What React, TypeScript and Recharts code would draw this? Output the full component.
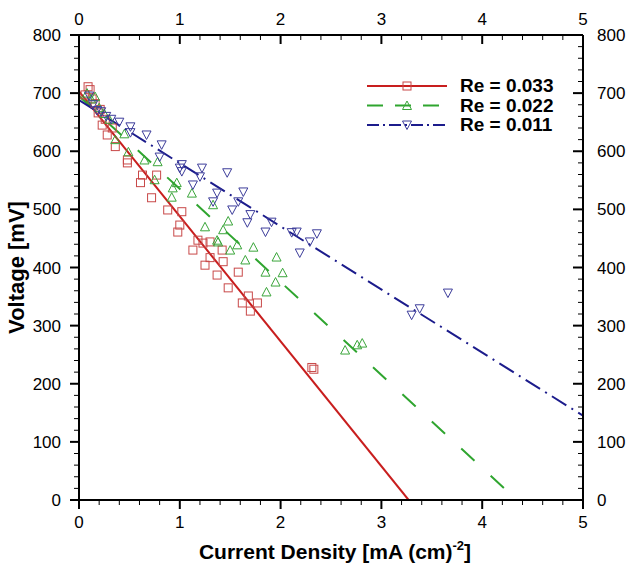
import React from "react";
import {
  ComposedChart,
  Line,
  Scatter,
  XAxis,
  YAxis,
  Label,
} from "recharts";

// axis ticks
const X_STEP = 0.2;
const Y_STEP = 20;

const buildTicks = (max: number, step: number) =>
  Array.from({ length: Math.round(max / step) + 1 }, (_, k) => +(k * step).toFixed(3));
const X_TICKS = buildTicks(5, X_STEP);
const Y_TICKS = buildTicks(800, Y_STEP);

// Re = 0.033 measurements
const re033Current = [0.06, 0.09, 0.11, 0.13, 0.16, 0.19, 0.21, 0.23, 0.26, 0.28, 0.33, 0.36, 0.48, 0.48, 0.61, 0.63, 0.72, 0.77, 0.88, 0.98, 1.0, 1.02, 1.13, 1.18, 1.23, 1.25, 1.3, 1.3, 1.37, 1.42, 1.43, 1.48, 1.58, 1.62, 1.68, 1.7, 1.77, 2.31, 2.33];
const re033Voltage = [697, 711, 706, 690, 682, 666, 672, 645, 655, 628, 640, 608, 585, 580, 546, 559, 520, 559, 499, 461, 473, 496, 430, 447, 442, 404, 444, 417, 387, 430, 410, 365, 392, 339, 351, 325, 339, 228, 225];

// Re = 0.022 measurements
const re022Current = [0.08, 0.12, 0.16, 0.2, 0.25, 0.3, 0.36, 0.45, 0.49, 0.65, 0.75, 0.78, 0.93, 0.97, 0.92, 1.12, 1.25, 1.33, 1.37, 1.38, 1.43, 1.48, 1.5, 1.57, 1.65, 1.73, 1.85, 1.86, 1.95, 1.96, 2.02, 2.64, 2.76, 2.81];
const re022Voltage = [700, 690, 694, 675, 665, 655, 620, 630, 599, 585, 551, 582, 537, 546, 521, 528, 470, 508, 447, 444, 465, 480, 430, 439, 413, 435, 392, 358, 375, 418, 391, 258, 267, 270];

// Re = 0.011 measurements
const re011Current = [0.1, 0.14, 0.18, 0.22, 0.27, 0.32, 0.4, 0.51, 0.51, 0.67, 0.8, 0.82, 1.0, 1.02, 1.02, 1.13, 1.2, 1.22, 1.33, 1.37, 1.47, 1.52, 1.58, 1.63, 1.67, 1.7, 1.85, 1.91, 2.11, 2.16, 2.19, 2.29, 2.36, 3.3, 3.38, 3.66];
const re011Voltage = [695, 680, 670, 668, 660, 655, 650, 642, 632, 628, 590, 611, 571, 577, 565, 542, 556, 571, 513, 528, 563, 499, 513, 530, 477, 491, 461, 478, 460, 461, 425, 444, 458, 318, 329, 356];

// fitted lines (end points)
const fit033Current = [0, 3.27];
const fit033Voltage = [703, 0];
const fit022Current = [0, 4.22];
const fit022Voltage = [695, 20];
const fit011Current = [0, 5];
const fit011Voltage = [688, 145];

const zip = (xs: number[], ys: number[]) => xs.map((i, k) => ({ i, v: ys[k] }));

const RED = "#c81e1e";
const GREEN = "#2fa52f";
const BLUE = "#1c1c8c";
const RED_MK = "#c84848";
const GREEN_MK = "#3aa53a";
const BLUE_MK = "#3c3c9a";

const FONT = '"Liberation Sans Narrow", "Arial Narrow", "Liberation Sans", Arial, sans-serif';

const SquareDot = (p: any) => (
  <rect x={p.cx - 4} y={p.cy - 4} width={8} height={8} fill="none" stroke={RED_MK} strokeWidth={1} />
);
const TriUp = (p: any) => (
  <polygon
    points={`${p.cx},${p.cy - 4.5} ${p.cx - 4.5},${p.cy + 4} ${p.cx + 4.5},${p.cy + 4}`}
    fill="none"
    stroke={GREEN_MK}
    strokeWidth={1}
  />
);
const TriDown = (p: any) => (
  <polygon
    points={`${p.cx},${p.cy + 4.5} ${p.cx - 4.5},${p.cy - 4} ${p.cx + 4.5},${p.cy - 4}`}
    fill="none"
    stroke={BLUE_MK}
    strokeWidth={1}
  />
);

// tick renderers
const BottomTick = ({ x, y, payload }: any) => {
  const major = Number.isInteger(payload.value);
  return (
    <g>
      <line x1={x} x2={x} y1={y} y2={y + (major ? 9 : 5)} stroke="#000" strokeWidth={major ? 2 : 1} />
      {major && (
        <text x={x} y={y + 28} textAnchor="middle" fontSize={17} fontFamily={FONT} fill="#000">
          {payload.value}
        </text>
      )}
    </g>
  );
};
const TopTick = ({ x, y, payload }: any) => {
  const major = Number.isInteger(payload.value);
  return (
    <g>
      <line x1={x} x2={x} y1={y} y2={y + (major ? 9 : 5)} stroke="#000" strokeWidth={major ? 2 : 1} />
      {major && (
        <text x={x} y={y - 10} textAnchor="middle" fontSize={17} fontFamily={FONT} fill="#000">
          {payload.value}
        </text>
      )}
    </g>
  );
};
const LeftTick = ({ x, y, payload }: any) => {
  const major = payload.value % 100 === 0;
  return (
    <g>
      <line x1={x} x2={x - (major ? 9 : 5)} y1={y} y2={y} stroke="#000" strokeWidth={major ? 2 : 1} />
      {major && (
        <text x={x - 18} y={y + 6} textAnchor="end" fontSize={17} fontFamily={FONT} fill="#000">
          {payload.value}
        </text>
      )}
    </g>
  );
};
const RightTick = ({ x, y, payload }: any) => {
  const major = payload.value % 100 === 0;
  return (
    <g>
      <line x1={x} x2={x - (major ? 10 : 5)} y1={y} y2={y} stroke="#000" strokeWidth={major ? 2 : 1} />
      {major && (
        <text x={x + 14} y={y + 6} textAnchor="start" fontSize={17} fontFamily={FONT} fill="#000">
          {payload.value}
        </text>
      )}
    </g>
  );
};

const XTitle = ({ viewBox }: any) => {
  const cx = viewBox.x + viewBox.width / 2 + 4;
  return (
    <text x={cx} y={viewBox.y + 59} textAnchor="middle" fontSize={21} fontWeight={700} fontFamily={FONT} fill="#000">
      <tspan>Current Density [mA (cm)</tspan>
      <tspan dy={-9} fontSize={13}>-2</tspan>
      <tspan dy={9}>]</tspan>
    </text>
  );
};
const YTitle = ({ viewBox }: any) => {
  const cy = viewBox.y + viewBox.height / 2;
  return (
    <text
      x={24}
      y={cy}
      transform={`rotate(-90, 24, ${cy})`}
      textAnchor="middle"
      fontSize={22}
      fontWeight={700}
      fontFamily={FONT}
      fill="#000"
    >
      Voltage [mV]
    </text>
  );
};

const LEGEND_ITEMS = [
  { label: "Re = 0.033", color: RED, dash: undefined, marker: "square" },
  { label: "Re = 0.022", color: GREEN, dash: "16 12", marker: "up" },
  { label: "Re = 0.011", color: BLUE, dash: "12 4 2 4", marker: "down" },
];

const LegendBox = () => (
  <svg width={215} height={70} style={{ position: "absolute", left: 367, top: 78, overflow: "visible" }}>
    {LEGEND_ITEMS.map((it, k) => {
      const y = 8 + k * 19.5;
      return (
        <g key={it.label}>
          <line x1={0} x2={80} y1={y} y2={y} stroke={it.color} strokeWidth={2} strokeDasharray={it.dash} />
          {it.marker === "square" && <SquareDot cx={40} cy={y} />}
          {it.marker === "up" && <TriUp cx={40} cy={y} />}
          {it.marker === "down" && <TriDown cx={40} cy={y} />}
          <text x={93} y={y + 6} fontSize={19} fontWeight={700} fontFamily={FONT} fill="#000">
            {it.label}
          </text>
        </g>
      );
    })}
  </svg>
);

export default function App() {
  return (
    <div style={{ position: "absolute", left: 0, top: 0, width: 634, height: 567, background: "#fff" }}>
      <ComposedChart width={634} height={567} margin={{ top: 0, right: 0, bottom: 0, left: 0 }}>
        <XAxis
          xAxisId="b"
          dataKey="i"
          type="number"
          domain={[0, 5]}
          ticks={X_TICKS}
          interval={0}
          allowDataOverflow
          height={67}
          tickSize={0}
          tickMargin={0}
          tickLine={false}
          axisLine={{ stroke: "#000", strokeWidth: 2 }}
          tick={<BottomTick />}
        >
          <Label content={<XTitle />} />
        </XAxis>
        <XAxis
          xAxisId="t"
          orientation="top"
          dataKey="i"
          type="number"
          domain={[0, 5]}
          ticks={X_TICKS}
          interval={0}
          allowDataOverflow
          height={35}
          tickSize={0}
          tickMargin={0}
          tickLine={false}
          axisLine={{ stroke: "#000", strokeWidth: 2 }}
          tick={<TopTick />}
        />
        <YAxis
          yAxisId="l"
          dataKey="v"
          type="number"
          domain={[0, 800]}
          ticks={Y_TICKS}
          interval={0}
          allowDataOverflow
          width={79}
          tickSize={0}
          tickMargin={0}
          tickLine={false}
          axisLine={{ stroke: "#000", strokeWidth: 2 }}
          tick={<LeftTick />}
        >
          <Label content={<YTitle />} />
        </YAxis>
        <YAxis
          yAxisId="r"
          orientation="right"
          dataKey="v"
          type="number"
          domain={[0, 800]}
          ticks={Y_TICKS}
          interval={0}
          allowDataOverflow
          width={51}
          tickSize={0}
          tickMargin={0}
          tickLine={false}
          axisLine={{ stroke: "#000", strokeWidth: 2 }}
          tick={<RightTick />}
        />

        <Scatter xAxisId="b" yAxisId="l" name="Re = 0.033 data" data={zip(re033Current, re033Voltage)} dataKey="v" shape={<SquareDot />} isAnimationActive={false} />
        <Scatter xAxisId="b" yAxisId="l" name="Re = 0.022 data" data={zip(re022Current, re022Voltage)} dataKey="v" shape={<TriUp />} isAnimationActive={false} />
        <Scatter xAxisId="b" yAxisId="l" name="Re = 0.011 data" data={zip(re011Current, re011Voltage)} dataKey="v" shape={<TriDown />} isAnimationActive={false} />

        <Line xAxisId="b" yAxisId="l" type="linear" data={zip(fit033Current, fit033Voltage)} dataKey="v" stroke={RED} strokeWidth={2} dot={false} isAnimationActive={false} />
        <Line xAxisId="b" yAxisId="l" type="linear" data={zip(fit022Current, fit022Voltage)} dataKey="v" stroke={GREEN} strokeWidth={2} strokeDasharray="18 22" dot={false} isAnimationActive={false} />
        <Line xAxisId="b" yAxisId="l" type="linear" data={zip(fit011Current, fit011Voltage)} dataKey="v" stroke={BLUE} strokeWidth={2} strokeDasharray="17 6 2 6" dot={false} isAnimationActive={false} />
      </ComposedChart>
      <LegendBox />
    </div>
  );
}
